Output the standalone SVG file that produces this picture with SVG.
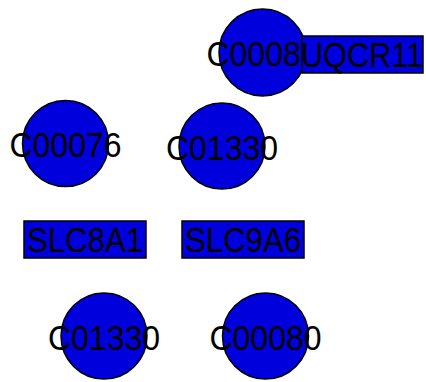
<svg xmlns="http://www.w3.org/2000/svg" width="426" height="382" viewBox="0 0 426 382">
<style>
.n{fill:#0000dd;stroke:#000;stroke-width:1.5}
.t{font-family:"Liberation Sans",Arial,sans-serif;font-size:35px;fill:#000;text-anchor:middle}
</style>
<rect width="426" height="382" fill="#fff"/>
<g id="connectors"></g>
<g id="C00080_top"><circle class="n" cx="262.5" cy="52.5" r="43.5"/><text class="t" x="262.5" y="65.5" textLength="112" lengthAdjust="spacingAndGlyphs">C00080</text></g>
<g id="UQCR11"><rect class="n" x="302" y="36" width="121" height="37"/><text class="t" x="362" y="67" textLength="122" lengthAdjust="spacingAndGlyphs">UQCR11</text></g>
<g id="C00076"><circle class="n" cx="65.5" cy="143.5" r="43"/><text class="t" x="65.5" y="157" textLength="112" lengthAdjust="spacingAndGlyphs">C00076</text></g>
<g id="C01330_top"><circle class="n" cx="222" cy="146" r="43"/><text class="t" x="222" y="159.5" textLength="112" lengthAdjust="spacingAndGlyphs">C01330</text></g>
<g id="SLC8A1"><rect class="n" x="24" y="221" width="122" height="37"/><text class="t" x="85" y="252" textLength="116" lengthAdjust="spacingAndGlyphs">SLC8A1</text></g>
<g id="SLC9A6"><rect class="n" x="182" y="221" width="122" height="37"/><text class="t" x="243" y="252" textLength="116" lengthAdjust="spacingAndGlyphs">SLC9A6</text></g>
<g id="C01330_bottom"><circle class="n" cx="104" cy="336" r="43"/><text class="t" x="104" y="349.5" textLength="112" lengthAdjust="spacingAndGlyphs">C01330</text></g>
<g id="C00080_bottom"><circle class="n" cx="265.5" cy="336" r="43"/><text class="t" x="265.5" y="349.5" textLength="112" lengthAdjust="spacingAndGlyphs">C00080</text></g>
</svg>
